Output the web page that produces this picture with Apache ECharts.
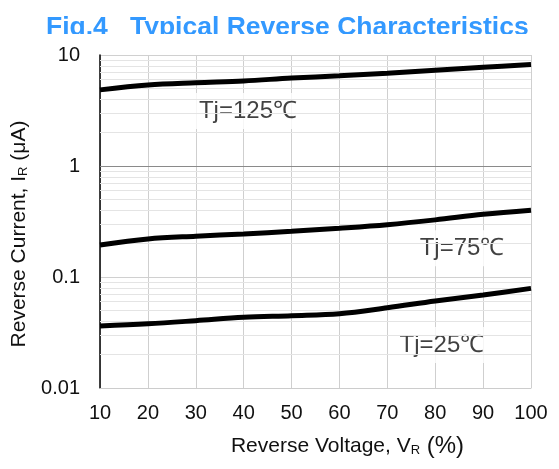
<!DOCTYPE html>
<html>
<head>
<meta charset="utf-8">
<script src="https://cdn.jsdelivr.net/npm/echarts@6/dist/echarts.min.js"></script>
<style>
html,body{margin:0;padding:0;background:#fff;}
#chart{width:559px;height:469px;}
</style>
</head>
<body>
<div id="chart"></div>
<script>
// ---- data ----
var voltagePct = [10, 20, 30, 40, 50, 60, 70, 80, 90, 100];
var current125 = [4.85, 5.37, 5.63, 5.84, 6.2, 6.5, 6.85, 7.3, 7.75, 8.2];
var current75  = [0.194, 0.220, 0.233, 0.244, 0.258, 0.275, 0.296, 0.327, 0.367, 0.40];
var current25  = [0.0362, 0.0379, 0.0404, 0.0433, 0.0448, 0.0467, 0.0528, 0.0608, 0.0689, 0.079];
var annotationTexts = ['Tj=125℃', 'Tj=75℃', 'Tj=25℃'];
var annotationX = [40.9, 85.6, 81.4];
var annotationY = [3.13, 0.1815, 0.0244];
var decades = [0.01, 0.1, 1];
var minorMultipliers = [2, 3, 4, 5, 6, 7, 8, 9];

function pairs(xs, ys) { return xs.map(function (x, i) { return [x, ys[i]]; }); }

var minorLines = [];
decades.forEach(function (d) {
  minorMultipliers.forEach(function (m) { minorLines.push({ yAxis: +(d * m).toPrecision(3) }); });
});

var FONT = 'Arial, "Liberation Sans", sans-serif';
var chart = echarts.init(document.getElementById('chart'));

var curveStyle = { color: '#000', width: 5 };
function curve(name, ys) {
  return {
    name: name, type: 'line', data: pairs(voltagePct, ys), smooth: 0.35,
    showSymbol: false, symbol: 'none', lineStyle: curveStyle, z: 5, silent: true
  };
}

chart.setOption({
  animation: false,
  title: {
    text: 'Fig.4   Typical Reverse Characteristics',
    left: 46, top: 14, padding: 0,
    textStyle: { color: '#3399ff', fontSize: 26.5, fontWeight: 'bold', fontFamily: FONT }
  },
  graphic: [
    { type: 'rect', left: 0, top: 34, shape: { width: 559, height: 9 }, style: { fill: '#fff' }, z: 100 }
  ],
  grid: { left: 100, right: 28, top: 55, bottom: 81, containLabel: false },
  xAxis: {
    type: 'value', min: 10, max: 100, interval: 10,
    axisLine: { show: true, lineStyle: { color: '#cccccc', width: 1 } },
    axisTick: { show: false },
    axisLabel: { margin: 15, fontSize: 20, color: '#111', fontFamily: FONT },
    splitLine: { show: true, lineStyle: { color: '#cfcfcf', width: 1 } },
    name: '{a|Reverse Voltage, V}{s|R}{p| (%)}',
    nameLocation: 'middle', nameGap: 46,
    nameTextStyle: {
      padding: [0, 0, 0, 64],
      rich: {
        a: { fontSize: 21, color: '#111', fontFamily: FONT },
        s: { fontSize: 13, color: '#111', fontFamily: FONT, padding: [8, 0, 0, 0] },
        p: { fontSize: 24, color: '#111', fontFamily: FONT }
      }
    }
  },
  yAxis: {
    type: 'log', logBase: 10, min: 0.01, max: 10,
    axisLine: { show: true, onZero: false, lineStyle: { color: '#000', width: 1.5 } },
    axisTick: { show: false },
    axisLabel: { margin: 20, fontSize: 20, color: '#111', fontFamily: FONT },
    splitLine: { show: true, lineStyle: { color: '#d0d0d0', width: 1 } },
    name: '{a|Reverse Current, I}{s|R}{a| (μA)}',
    nameLocation: 'middle', nameGap: 55, nameRotate: 90,
    nameTextStyle: {
      padding: [0, 25, 0, 0],
      rich: {
        a: { fontSize: 21, color: '#111', fontFamily: FONT },
        s: { fontSize: 13, color: '#111', fontFamily: FONT, padding: [8, 0, 0, 0] }
      }
    }
  },
  series: [
    {
      name: 'grid-minor', type: 'line', data: [], z: 1, silent: true,
      markLine: {
        silent: true, symbol: ['none', 'none'], label: { show: false },
        lineStyle: { color: '#e4e4e4', type: 'solid', width: 1 },
        data: minorLines
      }
    },
    {
      name: 'grid-major', type: 'line', data: [], z: 2, silent: true,
      markLine: {
        silent: true, symbol: ['none', 'none'], label: { show: false },
        lineStyle: { color: '#8a8a8a', type: 'solid', width: 1 },
        data: [{ yAxis: 1 }]
      }
    },
    curve('Tj=125', current125),
    curve('Tj=75', current75),
    curve('Tj=25', current25),
    {
      name: 'labels', type: 'scatter', symbolSize: 0, z: 4, silent: true,
      data: annotationTexts.map(function (t, i) { return { value: [annotationX[i], annotationY[i]], name: t }; }),
      label: {
        show: true, position: 'inside', formatter: '{b}',
        fontSize: 24, color: '#111', fontFamily: FONT,
        backgroundColor: '#fff', padding: [6, 6]
      }
    }
  ]
});
</script>
</body>
</html>
